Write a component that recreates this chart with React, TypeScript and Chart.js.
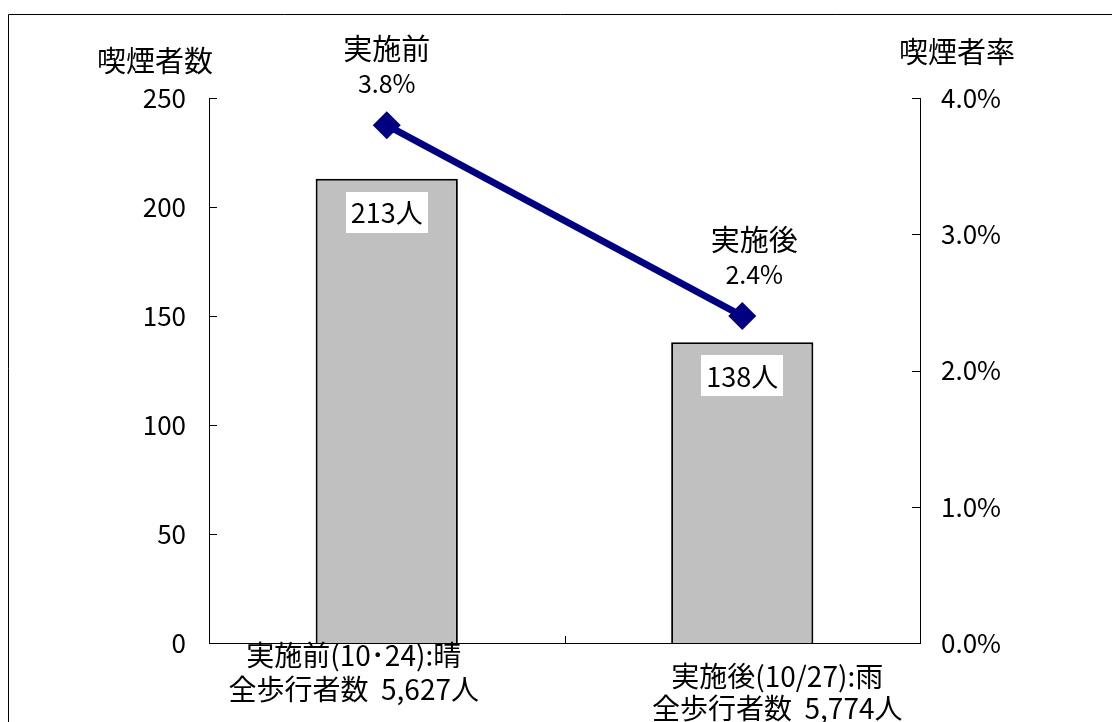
import React, { useEffect, useRef } from "react";
import { Chart, registerables } from "chart.js";

Chart.register(...registerables);

// ---- data ----
const categoryKeys = ["before", "after"];
const categoryLines = [
  ["実施前(10･24):晴", "全歩行者数  5,627人"],
  ["実施後(10/27):雨", "全歩行者数  5,774人"],
];
const smokerCounts = [213, 138];
const smokerRates = [3.8, 2.4];
const pointNames = ["実施前", "実施後"];
const leftTitle = "喫煙者数";
const rightTitle = "喫煙者率";
const leftMax = 250;
const leftStep = 50;
const rightMax = 4;
const rightStep = 1;

// ---- layout constants ----
const W = 1104;
const H = 708;
const FONT = '"Noto Sans CJK JP", "Noto Sans", sans-serif';
const pointLabelDx = [0, 12];
const catLabelDx = [-33, 35];
const catLabelY = [
  [641, 675],
  [662, 694],
];

const overlayPlugin = {
  id: "overlay",
  afterDraw(chart: any) {
    const ctx = chart.ctx;
    const area = chart.chartArea;
    const yL = chart.scales.y;
    const yR = chart.scales.y1;
    const x = chart.scales.x;
    ctx.save();

    // frame
    ctx.strokeStyle = "#000";
    ctx.lineWidth = 1;
    ctx.beginPath();
    ctx.moveTo(0.5, H);
    ctx.lineTo(0.5, 0.5);
    ctx.lineTo(W, 0.5);
    ctx.stroke();

    // inward ticks
    ctx.beginPath();
    for (let v = 0; v <= leftMax; v += leftStep) {
      const py = Math.round(yL.getPixelForValue(v)) + 0.5;
      ctx.moveTo(area.left, py);
      ctx.lineTo(area.left + 8, py);
    }
    for (let v = 0; v <= rightMax; v += rightStep) {
      const py = Math.round(yR.getPixelForValue(v)) + 0.5;
      ctx.moveTo(area.right - 8, py);
      ctx.lineTo(area.right, py);
    }
    const midX = Math.round((x.getPixelForValue(0) + x.getPixelForValue(1)) / 2) + 0.5;
    ctx.moveTo(midX, area.bottom - 7);
    ctx.lineTo(midX, area.bottom);
    ctx.stroke();

    ctx.fillStyle = "#000";
    ctx.textAlign = "center";
    ctx.textBaseline = "middle";

    // axis titles
    ctx.font = `29px ${FONT}`;
    ctx.fillText(leftTitle, 147, 47);
    ctx.fillText(rightTitle, 949, 38);

    // point labels
    const lineMeta = chart.getDatasetMeta(1);
    lineMeta.data.forEach((pt: any, i: number) => {
      const cx = pt.x + pointLabelDx[i];
      ctx.font = `29px ${FONT}`;
      ctx.fillText(pointNames[i], cx, pt.y - 76);
      ctx.font = `25px ${FONT}`;
      ctx.fillText(smokerRates[i].toFixed(1) + "%", cx, pt.y - 42);
    });

    // bar value boxes
    const barMeta = chart.getDatasetMeta(0);
    barMeta.data.forEach((bar: any, i: number) => {
      const bw = 82;
      const bh = 41;
      const top = bar.y + 13;
      ctx.fillStyle = "#fff";
      ctx.fillRect(Math.round(bar.x - bw / 2), Math.round(top), bw, bh);
      ctx.fillStyle = "#000";
      ctx.font = `27px ${FONT}`;
      ctx.fillText(smokerCounts[i] + "人", bar.x, top + bh / 2 + 1);
    });

    // category labels
    ctx.font = `28px ${FONT}`;
    categoryLines.forEach((lines, i) => {
      const cx = x.getPixelForValue(i) + catLabelDx[i];
      lines.forEach((ln, j) => {
        ctx.fillText(ln, cx, catLabelY[i][j]);
      });
    });

    ctx.restore();
  },
};

export default function App() {
  const ref = useRef<HTMLCanvasElement | null>(null);

  useEffect(() => {
    if (!ref.current) return;
    const chart = new Chart(ref.current, {
      type: "bar",
      data: {
        labels: categoryKeys,
        datasets: [
          {
            type: "bar",
            data: smokerCounts,
            yAxisID: "y",
            backgroundColor: "#C0C0C0",
            borderColor: "#000",
            borderWidth: 2,
            barPercentage: 0.4,
            categoryPercentage: 1,
            order: 2,
          } as any,
          {
            type: "line",
            data: smokerRates,
            yAxisID: "y1",
            borderColor: "#000080",
            borderWidth: 7,
            pointStyle: "rectRot",
            pointRadius: 14,
            pointBackgroundColor: "#000080",
            pointBorderColor: "#000080",
            pointBorderWidth: 0,
            order: 1,
          } as any,
        ],
      },
      options: {
        responsive: false,
        animation: false,
        layout: { padding: { top: 84, left: 0, right: 0, bottom: 0 } },
        plugins: {
          legend: { display: false },
          tooltip: { enabled: false },
        },
        scales: {
          x: {
            grid: { display: false, drawTicks: false },
            ticks: { display: false },
            border: { display: true, color: "#000", width: 1 },
            afterFit: (s: any) => {
              s.height = 79;
            },
          },
          y: {
            position: "left",
            min: 0,
            max: leftMax,
            grid: { display: false, drawTicks: false },
            border: { display: true, color: "#000", width: 1 },
            ticks: {
              stepSize: leftStep,
              padding: 23,
              color: "#000",
              font: { family: FONT, size: 26 },
            },
            afterFit: (s: any) => {
              s.width = 201;
            },
          },
          y1: {
            position: "right",
            min: 0,
            max: rightMax,
            grid: { display: false, drawTicks: false },
            border: { display: true, color: "#000", width: 1 },
            ticks: {
              stepSize: rightStep,
              padding: 21,
              color: "#000",
              font: { family: FONT, size: 26 },
              callback: (v: any) => Number(v).toFixed(1) + "%",
            },
            afterFit: (s: any) => {
              s.width = 192;
            },
          },
        },
      } as any,
      plugins: [overlayPlugin],
    });
    return () => chart.destroy();
  }, []);

  return (
    <div style={{ position: "fixed", left: 8, top: 14, width: W, height: H }}>
      <canvas ref={ref} width={W} height={H} style={{ display: "block" }} />
    </div>
  );
}
